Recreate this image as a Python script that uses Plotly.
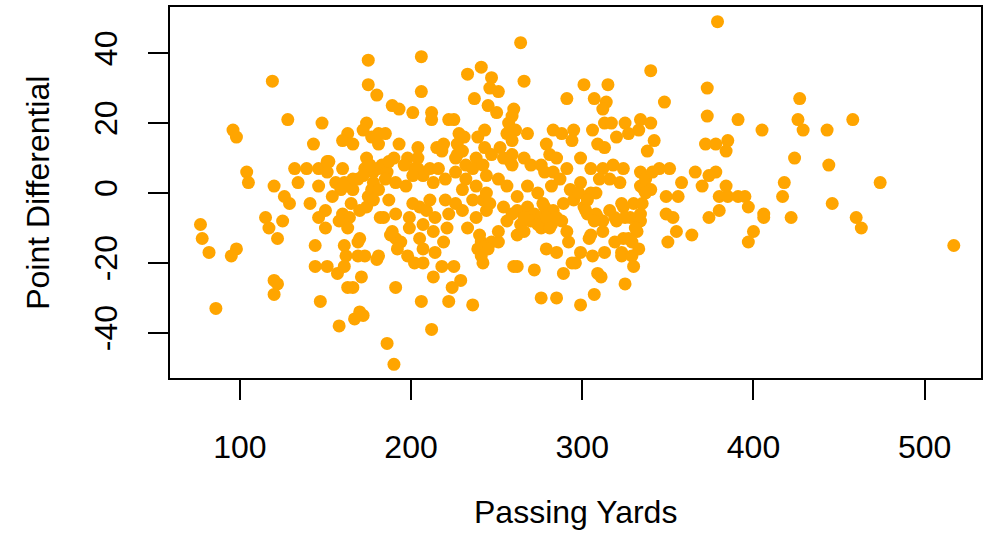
import plotly.graph_objects as go

# Passing yards (x) and point differential (y), grouped by region
xA = [175,119,175,180,128,148,96,98,143,174,172,163,160,166,177,181,181,174,104,105,132,139,146,151,151,160,173,178,169,134,120,146,156,161,159,166,177,126,154,152,176,172,166,161,181,178,181]
yA = [38,32,31,28,21,20,18,16,14,20,18,17,15,14,16,17,14,10,6,3,7,7,7,9,6,7,7,6,4,3,2,2,3,3,1,1,1,-1,-1,9,8,5,4,2,7,3,1]

xB = [129,141,165,115,117,125,122,150,146,160,164,150,163,170,174,175,182,144,169,161,162,169,173,180,144,151,157,161,171,120,122,120,163,166,147,170,172,167,158,86,77,78,82,98,95,178,158,170]
yB = [-3,-3,-3,-7,-10,-8,-13,-5,-7,-6,-7,-10,-10,-5,-4,-1,-7,-15,-14,-15,-18,-18,-18,-19,-21,-21,-23,-21,-24,-25,-26,-29,-27,-27,-31,-34,-35,-36,-38,-33,-9,-13,-17,-16,-18,-2,-8,-13]

xC = [187,188,191,194,192,181,198,202,207,207,214,205,199,213,219,221,218,225,213,229,224,191,206,222,236,212,186,190,233,241,247,251,239,241,242,245,251,260,262,272,276,285,279,285,292,294,296,289,299,299,288]
yC = [-2,-12,-13,-14,-16,-18,-18,-20,-20,-16,-17,-13,-10,-11,-14,-10,-21,-21,-24,-25,-27,-27,-31,-31,-32,-39,-43,-49,-10,-14,-14,-14,-16,-18,-20,-16,-11,-21,-21,-22,-30,-30,-16,-17,-14,-20,-20,-23,-32,-17,-8]

xD = [184,191,199,205,209,214,201,211,220,226,222,230,236,238,244,242,189,207,240]
yD = [-7,-6,-7,-4,-5,-7,-3,-2,-2,-3,-6,-5,-2,-7,-5,-2,-11,-9,-12]

xE = [246,254,262,268,272,278,283,289,301,303,309,316,324,330,328,320,334,256,264,270,276,282,291,276,262,266,305,312,324,332,259,266,274,279,281,285,277,262,274,295,305]
yE = [-3,-4,-5,-4,-6,-4,-5,-3,-4,-6,-7,-5,-4,-3,-7,-8,-8,-8,-9,-8,-10,-9,-11,-7,-12,-11,-12,-11,-13,-11,-6,-7,-9,-7,-10,-7,-3,-1,0,-2,0]

xF = [264,206,233,241,247,246,251,266,291,301,206,237,245,250,260,259,189,193,201,212,212,222,225,185,193,204,215,219,228,231]
yF = [43,39,34,36,33,30,29,32,27,31,29,27,25,23,24,22,25,24,23,23,21,21,21,17,14,13,13,14,17,16]

xG = [227,227,239,243,243,257,256,261,259,252,254,259,259,268,283,288,295,294,279,281,285,299,190,198,204,202,183,186]
yG = [14,11,16,18,13,20,17,18,15,13,10,11,8,17,18,17,18,15,14,11,10,10,10,10,10,7,8,6]

xH = [187,196,204,207,211,213,201,197,185,191,218,216,220,226,230,232,238,236,242,244,232,226,230,238,244]
yH = [9,8,7,5,7,3,5,2,4,3,12,7,4,10,12,8,10,7,8,5,4,6,1,2,0]

xI = [247,258,266,270,276,291,278,283,305,312,318,324,334,334,316,310,322,251,256,268,282,287,293,299]
yI = [11,9,10,8,8,7,6,6,7,7,8,7,6,2,4,4,3,4,2,2,2,4,1,3]

xJ = [379,340,315,373,348,307,314,312,373,391,405,313,317,325,334,340,306,327,333,320,342,338,309,313,372,378,385,384,345,351,366,378,374,418,358,370,384,337,341,336,340,308,298,349,356,380,385,391,395,417]
yJ = [49,35,31,30,26,27,26,24,22,21,18,20,20,20,21,20,18,17,18,16,15,12,14,13,14,14,15,12,7,7,6,6,5,3,3,2,2,4,6,1,1,0,0,-1,-1,-1,-1,-1,-1,-1]

xK = [303,302,308,312,307,323,335,319,325,334,331,337,349,353,355,364,350,397,374,380,406,406,400,397,304,306,313,319,323,323,329,327,329,333,330,309,311,325,307]
yK = [-2,-5,-6,-8,-8,-3,-3,-7,-7,-6,-10,0,-6,-7,-11,-12,-14,-4,-7,-5,-6,-7,-11,-14,-13,-18,-17,-14,-17,-18,-18,-13,-14,-16,-21,-23,-24,-26,-29]

xL = [427,426,429,443,458,424,444,474,446,422,460,463,517]
yL = [27,21,18,18,21,10,8,3,-3,-7,-7,-10,-15]

x_ticks = [100, 200, 300, 400, 500]
y_ticks = [-40, -20, 0, 20, 40]
y_tick_text = ["-40", "-20", "0", "20", "40"]

passing_yards = xA + xB + xC + xD + xE + xF + xG + xH + xI + xJ + xK + xL
point_diff = yA + yB + yC + yD + yE + yF + yG + yH + yI + yJ + yK + yL

FONT = "Liberation Sans, Arial, Helvetica, sans-serif"

fig = go.Figure()
fig.add_trace(go.Scatter(
    x=passing_yards, y=point_diff, mode="markers",
    marker=dict(color="#FFA500", size=13, line=dict(width=0)),
    hoverinfo="skip", showlegend=False,
))

axis_common = dict(
    showgrid=False, zeroline=False, showline=True, mirror=True,
    linecolor="black", linewidth=2, ticks="outside", ticklen=20,
    tickwidth=2, tickcolor="black",
    tickfont=dict(family=FONT, size=32, color="black"),
)

fig.update_layout(
    width=986, height=533,
    margin=dict(l=170, r=3, t=7, b=155),
    paper_bgcolor="white", plot_bgcolor="white",
    xaxis=dict(range=[59.2, 532.9], tickvals=x_ticks, ticklabelstandoff=20, **axis_common),
    yaxis=dict(range=[-52.9, 53.2], tickvals=y_ticks, ticktext=y_tick_text,
               tickangle=-90, ticklabelstandoff=18, **axis_common),
    annotations=[
        dict(text="Passing Yards", xref="paper", yref="paper", x=0.5, y=-0.36,
             xanchor="center", yanchor="middle", showarrow=False,
             font=dict(family=FONT, size=32, color="black")),
        dict(text="Point Differential", xref="paper", yref="paper", x=-0.1636, y=0.5,
             xanchor="center", yanchor="middle", textangle=-90, showarrow=False,
             font=dict(family=FONT, size=32, color="black")),
    ],
)

fig.write_html("out.html")
